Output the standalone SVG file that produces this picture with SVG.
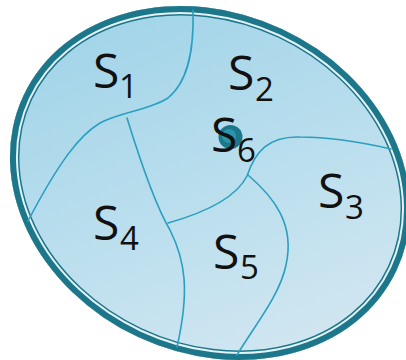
<svg xmlns="http://www.w3.org/2000/svg" width="406" height="360" viewBox="0 0 406 360">
<style>
.ln{fill:none;stroke:#2a9fc0;stroke-width:1.6;stroke-linecap:round}
.lb{font-family:"Open Sans","Noto Sans",sans-serif;fill:#111;font-size:48px}
.sb{font-size:33px}
</style>
<defs>
<ellipse id="E" cx="210" cy="183" rx="206" ry="170" transform="rotate(25 210 183)"/>
<clipPath id="clip"><use href="#E"/></clipPath>
<linearGradient id="g" gradientUnits="userSpaceOnUse" x1="40" y1="20" x2="380" y2="340">
<stop offset="0" stop-color="#9dd2e8"/>
<stop offset="0.5" stop-color="#b9deed"/>
<stop offset="1" stop-color="#d6e8f2"/>
</linearGradient>
</defs>
<g id="set">
<g clip-path="url(#clip)">
<use href="#E" fill="url(#g)"/>
<use href="#E" fill="none" stroke="#1d778a" stroke-width="19"/>
<use href="#E" fill="none" stroke="#e4f2f8" stroke-width="16"/>
<use href="#E" fill="none" stroke="#1d778a" stroke-width="12"/>
</g>
</g>
<g id="connectors">
<path class="ln" d="M193,10 C194,45 190,80 168,98 C150,110 120,112 100,123 C80,135 60,160 28,221"/>
<path class="ln" d="M127,118 C140,160 155,205 170,230 C185,260 190,290 177,347"/>
<path class="ln" d="M168,223 C200,214 235,200 247,176 C255,152 268,136 300,137 C335,137 365,143 391,149"/>
<path class="ln" d="M248,175 C275,198 295,225 286,265 C280,295 255,325 237,355"/>
</g>
<g id="dot">
<circle cx="230.5" cy="137" r="12" fill="#1d778a"/>
<circle cx="229" cy="136" r="7" fill="#2a95ab"/>
</g>
<g id="S1"><text class="lb"><tspan x="93" y="88">S</tspan><tspan class="sb" x="119" y="98">1</tspan></text></g>
<g id="S2"><text class="lb"><tspan x="228" y="90">S</tspan><tspan class="sb" x="255" y="101">2</tspan></text></g>
<g id="S6"><text class="lb"><tspan x="211" y="152">S</tspan><tspan class="sb" x="237" y="162">6</tspan></text></g>
<g id="S3"><text class="lb"><tspan x="318" y="208">S</tspan><tspan class="sb" x="345" y="219">3</tspan></text></g>
<g id="S4"><text class="lb"><tspan x="93" y="240">S</tspan><tspan class="sb" x="120" y="250">4</tspan></text></g>
<g id="S5"><text class="lb"><tspan x="213" y="269">S</tspan><tspan class="sb" x="240" y="279">5</tspan></text></g>
</svg>
